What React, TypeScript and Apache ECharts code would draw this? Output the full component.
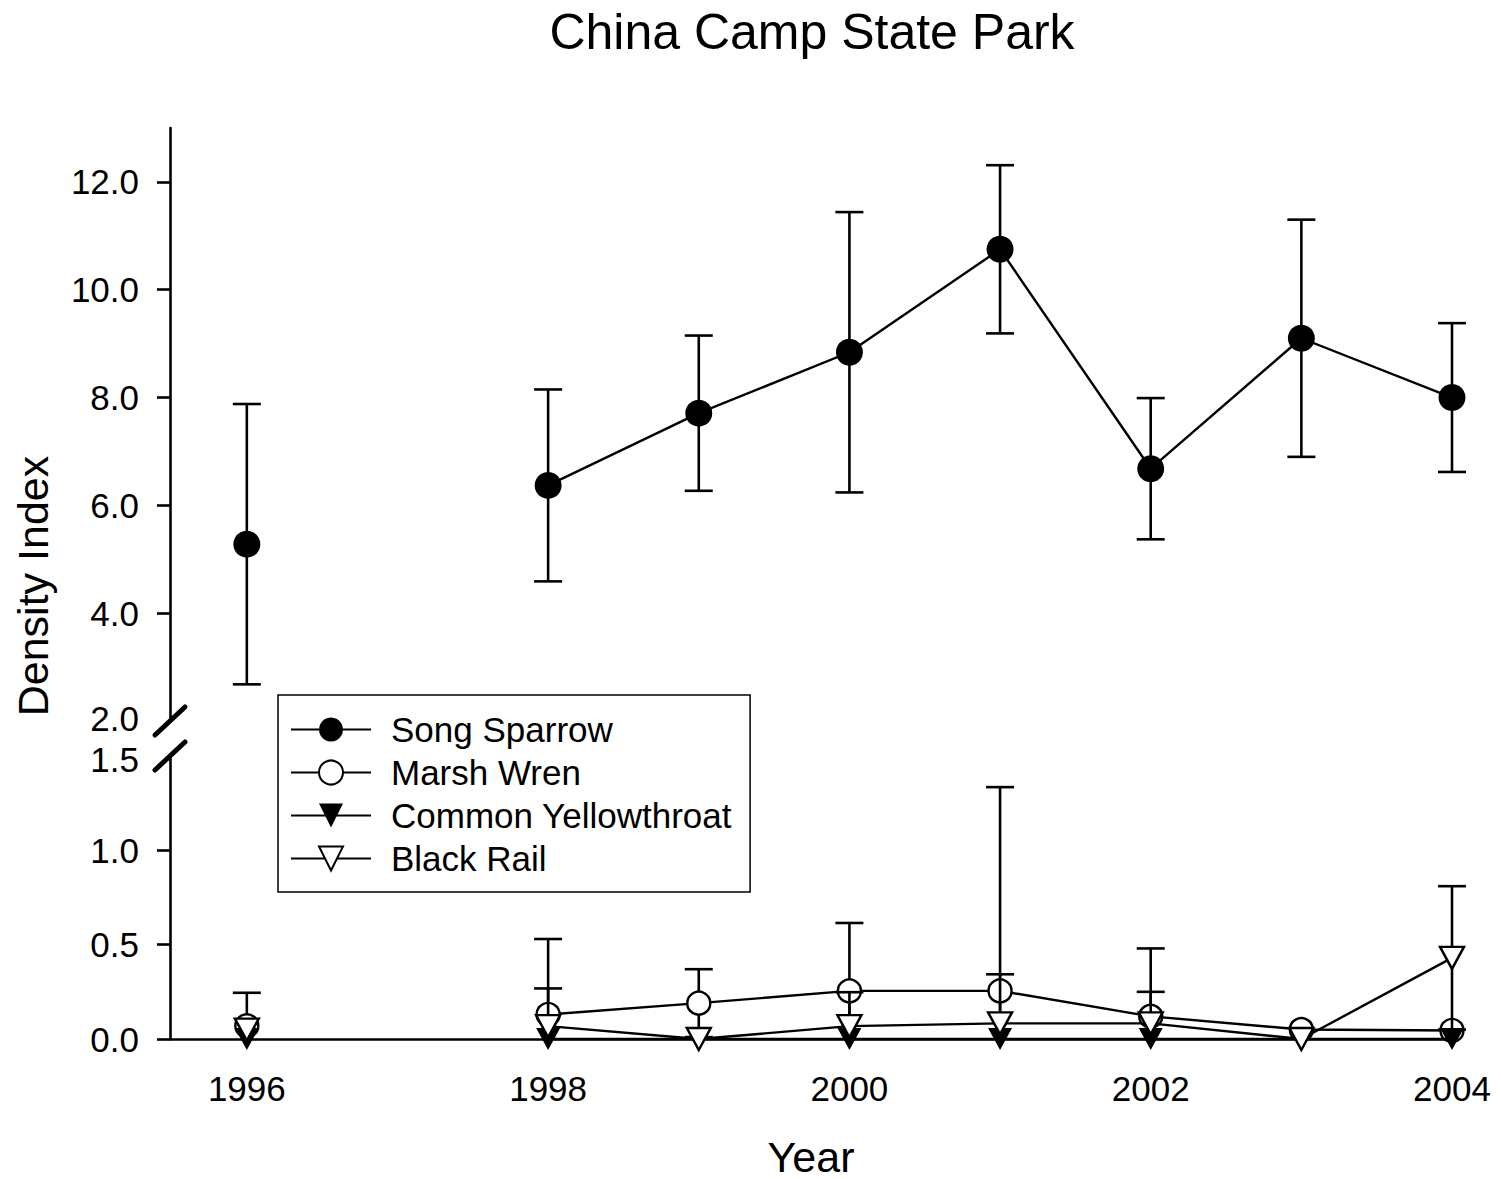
import React, { useEffect, useRef } from "react";
import * as echarts from "echarts";

// ---------- data ----------
const years = [1996, 1997, 1998, 1999, 2000, 2001, 2002, 2003, 2004];
const songSparrow = [5.28, null, 6.37, 7.71, 8.84, 10.75, 6.68, 9.1, 8.0];
const songSparrowErr = [2.6, null, 1.78, 1.44, 2.6, 1.56, 1.31, 2.2, 1.38];
const marshWren = [0.07, null, 0.13, 0.19, 0.255, 0.255, 0.12, 0.05, 0.045];
const marshWrenErr = [0.175, null, 0.4, 0.18, 0.36, 1.08, 0.36, 0, 0];
const commonYellowthroat = [0, null, 0, 0, 0, 0, 0, 0, 0];
const blackRail = [0.05, null, 0.068, 0, 0.068, 0.083, 0.083, 0, 0.43];
const blackRailErr = [0, null, 0.2, 0, 0.18, 0.26, 0.167, 0, 0.38];

const xTickLabels = [1996, 1998, 2000, 2002, 2004];
const upperLabels = [2, 4, 6, 8, 10, 12];
const upperTicks = [4, 6, 8, 10, 12];
const lowerLabels = [0, 0.5, 1.0, 1.5];
const lowerTicks = [0, 0.5, 1.0];

const seriesNames = ["Song Sparrow", "Marsh Wren", "Common Yellowthroat", "Black Rail"];

// ---------- layout ----------
const FONT = "'Liberation Sans', Arial, Helvetica, sans-serif";
const L = 170;
const R = 1452;
const UT = 128;
const UB = 721;
const LT = 756;
const LB = 1044;
const X_MIN = 1995.49;
const X_MAX = 2004;
const U_MIN = 2;
const U_MAX = 13;
const L_MIN = 0;
const L_MAX = 1.5;

const pairs = (vals: (number | null)[]) =>
  years.map((y, i) => [y, vals[i] == null ? "-" : vals[i]]);

const errTriples = (vals: (number | null)[], errs: (number | null)[]) =>
  years
    .map((y, i) => [y, vals[i], errs[i]])
    .filter((d) => d[1] != null && d[2] != null && (d[2] as number) > 0);

const makeErrorRender = (yMin: number, yMax: number) => (params: any, api: any) => {
  const x = api.value(0);
  const y = api.value(1);
  const e = api.value(2);
  if (!(e > 0)) return null;
  const lo = Math.max(y - e, yMin);
  const hi = Math.min(y + e, yMax);
  const pLo = api.coord([x, lo]);
  const pHi = api.coord([x, hi]);
  const st = { stroke: "#000", lineWidth: 2.6 };
  const half = 14;
  const children: any[] = [
    { type: "line", shape: { x1: pLo[0], y1: pLo[1], x2: pHi[0], y2: pHi[1] }, style: st },
  ];
  if (y + e <= yMax)
    children.push({ type: "line", shape: { x1: pHi[0] - half, y1: pHi[1], x2: pHi[0] + half, y2: pHi[1] }, style: st });
  if (y - e >= yMin)
    children.push({ type: "line", shape: { x1: pLo[0] - half, y1: pLo[1], x2: pLo[0] + half, y2: pLo[1] }, style: st });
  return { type: "group", children };
};

const axisLabelStyle = { color: "#000", fontSize: 35, fontFamily: FONT };

export default function App() {
  const ref = useRef<HTMLDivElement>(null);

  useEffect(() => {
    document.body.style.margin = "0";
    const chart = echarts.init(ref.current!, null, { renderer: "svg" });

    const lineBase = {
      type: "line",
      connectNulls: false,
      clip: false,
      showAllSymbol: true,
      lineStyle: { color: "#000", width: 2.4 },
      emphasis: { disabled: true },
    };

    const option: any = {
      animation: false,
      backgroundColor: "#fff",
      title: {
        text: "China Camp State Park",
        left: 812,
        textAlign: "center",
        top: 7,
        padding: 0,
        textStyle: { color: "#000", fontSize: 50, fontWeight: "normal", fontFamily: FONT },
      },
      legend: {
        orient: "vertical",
        left: 278,
        top: 695,
        data: seriesNames,
        itemWidth: 80,
        itemHeight: 30,
        itemGap: 8,
        padding: [17, 18, 16, 12],
        borderColor: "#000",
        borderWidth: 1.5,
        borderRadius: 0,
        backgroundColor: "#fff",
        selectedMode: false,
        textStyle: { color: "#000", fontSize: 35, lineHeight: 35, fontFamily: FONT, padding: [0, 0, 0, 15] },
      },
      grid: [
        { left: L, top: UT, width: R - L, height: UB - UT },
        { left: L, top: LT, width: R - L, height: LB - LT },
      ],
      xAxis: [
        { type: "value", gridIndex: 0, min: X_MIN, max: X_MAX, show: false },
        {
          type: "value",
          gridIndex: 1,
          min: X_MIN,
          max: X_MAX,
          axisLine: { show: true, onZero: false, lineStyle: { color: "#000", width: 2.6 } },
          axisTick: { show: false },
          splitLine: { show: false },
          axisLabel: { ...axisLabelStyle, margin: 32, customValues: xTickLabels, formatter: (v: number) => String(v) },
          name: "Year",
          nameLocation: "middle",
          nameGap: 96,
          nameTextStyle: { color: "#000", fontSize: 43, fontFamily: FONT },
        },
      ],
      yAxis: [
        {
          type: "value",
          gridIndex: 0,
          min: U_MIN,
          max: U_MAX,
          axisLine: { show: true, lineStyle: { color: "#000", width: 2.6 } },
          axisTick: { show: true, length: 13, customValues: upperTicks, lineStyle: { color: "#000", width: 2.6 } },
          splitLine: { show: false },
          axisLabel: {
            ...axisLabelStyle,
            lineHeight: 30,
            margin: 31,
            customValues: upperLabels,
            formatter: (v: number) => (v === U_MIN ? "{edge|" + v.toFixed(1) + "}" : v.toFixed(1)),
            rich: {
              edge: { fontSize: 35, fontFamily: FONT, color: "#000", lineHeight: 30, padding: [0, 0, 6, 0] },
            },
          },
        },
        {
          type: "value",
          gridIndex: 1,
          min: L_MIN,
          max: L_MAX,
          axisLine: { show: true, lineStyle: { color: "#000", width: 2.6 } },
          axisTick: { show: true, length: 13, customValues: lowerTicks, lineStyle: { color: "#000", width: 2.6 } },
          splitLine: { show: false },
          axisLabel: {
            ...axisLabelStyle,
            lineHeight: 30,
            margin: 31,
            customValues: lowerLabels,
            formatter: (v: number) => (v === L_MAX ? "{edge|" + v.toFixed(1) + "}" : v.toFixed(1)),
            rich: {
              edge: { fontSize: 35, fontFamily: FONT, color: "#000", lineHeight: 30, padding: [6, 0, 0, 0] },
            },
          },
        },
      ],
      graphic: [
        {
          type: "text",
          x: 33,
          y: (UT + LB) / 2,
          rotation: Math.PI / 2,
          style: {
            text: "Density Index",
            fill: "#000",
            fontSize: 43,
            fontFamily: FONT,
            align: "center",
            verticalAlign: "middle",
          },
        },
        {
          type: "line",
          shape: { x1: L - 15, y1: UB + 14, x2: L + 15, y2: UB - 14 },
          style: { stroke: "#000", lineWidth: 5, lineCap: "round" },
          z: 10,
        },
        {
          type: "line",
          shape: { x1: L - 15, y1: LT + 14, x2: L + 15, y2: LT - 14 },
          style: { stroke: "#000", lineWidth: 5, lineCap: "round" },
          z: 10,
        },
      ],
      series: [
        {
          type: "custom",
          name: "Song Sparrow err",
          xAxisIndex: 0,
          yAxisIndex: 0,
          z: 2,
          silent: true,
          renderItem: makeErrorRender(U_MIN, U_MAX),
          data: errTriples(songSparrow, songSparrowErr),
        },
        {
          ...lineBase,
          name: "Song Sparrow",
          xAxisIndex: 0,
          yAxisIndex: 0,
          z: 3,
          symbol: "circle",
          symbolSize: 27,
          itemStyle: { color: "#000", borderColor: "#000", borderWidth: 0 },
          data: pairs(songSparrow),
        },
        {
          type: "custom",
          name: "Marsh Wren err",
          xAxisIndex: 1,
          yAxisIndex: 1,
          z: 4,
          silent: true,
          renderItem: makeErrorRender(L_MIN, L_MAX),
          data: errTriples(marshWren, marshWrenErr),
        },
        {
          ...lineBase,
          name: "Marsh Wren",
          xAxisIndex: 1,
          yAxisIndex: 1,
          z: 5,
          symbol: "circle",
          symbolSize: 23,
          itemStyle: { color: "#fff", borderColor: "#000", borderWidth: 2.4 },
          data: pairs(marshWren),
        },
        {
          ...lineBase,
          name: "Common Yellowthroat",
          xAxisIndex: 1,
          yAxisIndex: 1,
          z: 6,
          symbol: "triangle",
          symbolRotate: 180,
          symbolSize: [24, 22],
          itemStyle: { color: "#000", borderColor: "#000", borderWidth: 0 },
          data: pairs(commonYellowthroat),
        },
        {
          type: "custom",
          name: "Black Rail err",
          xAxisIndex: 1,
          yAxisIndex: 1,
          z: 7,
          silent: true,
          renderItem: makeErrorRender(L_MIN, L_MAX),
          data: errTriples(blackRail, blackRailErr),
        },
        {
          ...lineBase,
          name: "Black Rail",
          xAxisIndex: 1,
          yAxisIndex: 1,
          z: 8,
          symbol: "triangle",
          symbolRotate: 180,
          symbolSize: [24, 22],
          itemStyle: { color: "#fff", borderColor: "#000", borderWidth: 2.4 },
          data: pairs(blackRail),
        },
      ],
    };

    chart.setOption(option);
    return () => chart.dispose();
  }, []);

  return (
    <div
      ref={ref}
      style={{ position: "absolute", left: 0, top: 0, width: 1501, height: 1179, background: "#fff" }}
    />
  );
}
